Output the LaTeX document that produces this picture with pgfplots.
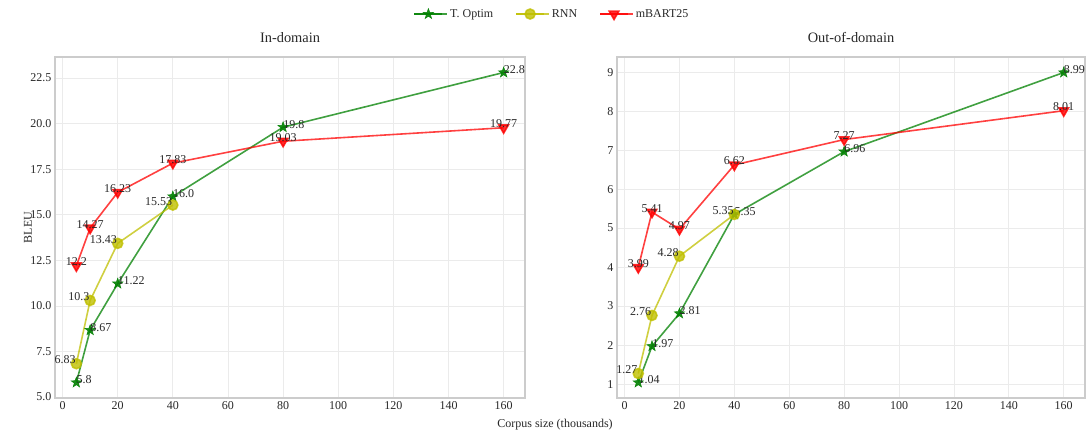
\documentclass[border=0pt]{standalone}
\usepackage{fontspec}
\setmainfont{Liberation Serif}
\usepackage{pgfplots}
\pgfplotsset{compat=1.18}
\usetikzlibrary{plotmarks}
\definecolor{cg}{RGB}{0,128,0}
\definecolor{cy}{RGB}{191,191,0}
\definecolor{cr}{RGB}{255,0,0}
\definecolor{txt}{RGB}{40,40,40}
\pgfdeclareplotmark{fstar}{%
  \pgfpathmoveto{\pgfqpointpolar{90}{\pgfplotmarksize}}%
  \pgfpathlineto{\pgfqpointpolar{126}{0.4\pgfplotmarksize}}%
  \pgfpathlineto{\pgfqpointpolar{162}{\pgfplotmarksize}}%
  \pgfpathlineto{\pgfqpointpolar{198}{0.4\pgfplotmarksize}}%
  \pgfpathlineto{\pgfqpointpolar{234}{\pgfplotmarksize}}%
  \pgfpathlineto{\pgfqpointpolar{270}{0.4\pgfplotmarksize}}%
  \pgfpathlineto{\pgfqpointpolar{306}{\pgfplotmarksize}}%
  \pgfpathlineto{\pgfqpointpolar{342}{0.4\pgfplotmarksize}}%
  \pgfpathlineto{\pgfqpointpolar{18}{\pgfplotmarksize}}%
  \pgfpathlineto{\pgfqpointpolar{54}{0.4\pgfplotmarksize}}%
  \pgfpathclose
  \pgfusepathqfillstroke
}
\pgfplotsset{
 base/.style={
  scale only axis, height=341pt,
  axis line style={draw=black!20, line width=1.2pt},
  grid=major, major grid style={draw=black!8, line width=0.8pt},
  tick style={draw=none},
  xmin=-2.75, xmax=167.75, xtick={0,20,...,160},
  ticklabel style={font=\fontsize{12}{13}\selectfont, text=txt},
  /pgf/number format/assume math mode=true,
  title style={font=\fontsize{14.4}{16}\selectfont, text=txt, at={(0.5,1)}, anchor=base, yshift=8pt},
  nodes near coords, point meta=explicit symbolic,
  every node near coord/.append style={font=\fontsize{12}{13}\selectfont, text=txt, inner sep=0pt},
  legend image code/.code={\draw[mark repeat=2,mark phase=2,##1] plot coordinates {(0pt,0pt) (14pt,0pt) (28pt,0pt)}; \path (0pt,0pt) -- (33pt,0pt);},
 },
 opt/.style={color=cg, line width=1.6pt, opacity=0.75, mark=fstar, mark size=5.5pt, mark options={fill=cg, draw=cg, line width=0.5pt, opacity=0.9}, every node near coord/.append style={anchor=base west, opacity=1, yshift=-1pt}},
 rnn/.style={color=cy, line width=1.6pt, opacity=0.75, mark=*, mark size=5pt, mark options={fill=cy, draw=cy, opacity=0.8}, every node near coord/.append style={anchor=base east, opacity=1}},
 mb/.style={color=cr, line width=1.6pt, opacity=0.75, mark=triangle*, mark size=5.5pt, mark options={fill=cr, draw=cr, rotate=180, opacity=0.8}, every node near coord/.append style={anchor=base, opacity=1}},
}
\begin{document}
\begin{tikzpicture}
\useasboundingbox (0,0) rectangle (1089pt,439pt);
\begin{axis}[base, at={(55pt,41pt)}, anchor=south west, width=470pt,
  ymin=4.95, ymax=23.65, ytick={5,7.5,...,22.5},
  yticklabel style={/pgf/number format/fixed, /pgf/number format/fixed zerofill, /pgf/number format/precision=1},
  title={In-domain},
  legend style={at={(1.0575,1.126)}, anchor=center, draw=none, fill=none, legend columns=-1,
    font=\fontsize{12}{13}\selectfont, text=txt, /tikz/every even column/.append style={column sep=20pt},
    legend cell align=left},
]
\addplot[opt] coordinates {(5,5.8)[5.8] (10,8.67)[8.67] (20,11.22)[11.22] (40,16.0)[16.0] (80,19.8)[19.8] (160,22.8)[22.8]};
\addlegendentry{T. Optim}
\addplot[rnn] coordinates {(5,6.83)[6.83] (10,10.3)[10.3] (20,13.43)[13.43] (40,15.53)[15.53]};
\addlegendentry{RNN}
\addplot[mb] coordinates {(5,12.2)[12.2] (10,14.27)[14.27] (20,16.23)[16.23] (40,17.83)[17.83] (80,19.03)[19.03] (160,19.77)[19.77]};
\addlegendentry{mBART25}
\end{axis}
\begin{axis}[base, at={(617pt,41pt)}, anchor=south west, width=468pt,
  ymin=0.6425, ymax=9.3875, ytick={1,2,...,9},
  title={Out-of-domain},
]
\addplot[opt] coordinates {(5,1.04)[1.04] (10,1.97)[1.97] (20,2.81)[2.81] (40,5.35)[5.35] (80,6.96)[6.96] (160,8.99)[8.99]};
\addplot[rnn] coordinates {(5,1.27)[1.27] (10,2.76)[2.76] (20,4.28)[4.28] (40,5.35)[5.35]};
\addplot[mb] coordinates {(5,3.99)[3.99] (10,5.41)[5.41] (20,4.97)[4.97] (40,6.62)[6.62] (80,7.27)[7.27] (160,8.01)[8.01]};
\end{axis}
\node[text=txt, font=\fontsize{12}{13}\selectfont] at (555pt,14pt) {Corpus size (thousands)};
\node[text=txt, rotate=90, font=\fontsize{12}{13}\selectfont] at (28pt,211.5pt) {BLEU};
\end{tikzpicture}
\end{document}
